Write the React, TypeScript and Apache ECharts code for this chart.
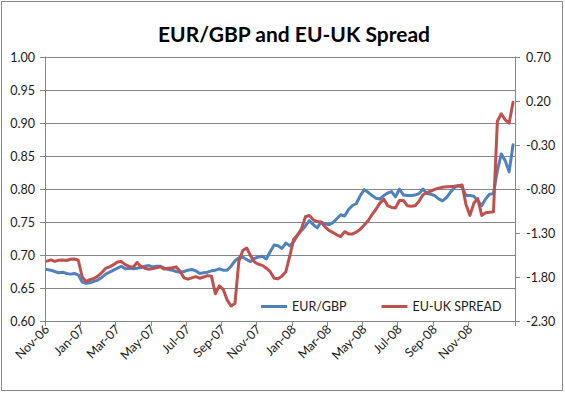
import { useEffect, useRef } from "react";
import * as echarts from "echarts";

// Weekly observations, starting Friday 3 Nov 2006
const weekStart = Date.UTC(2006, 10, 3);
const weekCount = 120;
const labelEvery = 9; // a label every 9 weeks
const lastLabelIndex = 108; // Nov-08
const monthNames = ["Jan", "Feb", "Mar", "Apr", "May", "Jun", "Jul", "Aug", "Sep", "Oct", "Nov", "Dec"];

const categories: string[] = [];
for (let i = 0; i < weekCount; i++) {
  const d = new Date(weekStart + i * 7 * 86400000);
  categories.push(d.toISOString().slice(0, 10));
}

const eurGbp = [
  0.678, 0.677, 0.675, 0.673, 0.674, 0.672, 0.671, 0.672, 0.670, 0.659,
  0.657, 0.658, 0.660, 0.662, 0.666, 0.671, 0.674, 0.677, 0.680, 0.683,
  0.679, 0.680, 0.679, 0.680, 0.681, 0.683, 0.684, 0.682, 0.683, 0.683,
  0.680, 0.678, 0.677, 0.675, 0.674, 0.675, 0.677, 0.678, 0.676, 0.672,
  0.673, 0.674, 0.676, 0.677, 0.679, 0.677, 0.677, 0.683, 0.691, 0.696,
  0.697, 0.693, 0.690, 0.695, 0.697, 0.698, 0.694, 0.705, 0.715, 0.714,
  0.710, 0.718, 0.714, 0.720, 0.730, 0.737, 0.744, 0.752, 0.746, 0.741,
  0.750, 0.747, 0.746, 0.749, 0.755, 0.761, 0.759, 0.769, 0.775, 0.778,
  0.790, 0.799, 0.795, 0.790, 0.786, 0.785, 0.790, 0.794, 0.796, 0.788,
  0.800, 0.791, 0.790, 0.790, 0.791, 0.793, 0.800, 0.793, 0.792, 0.790,
  0.785, 0.782, 0.787, 0.795, 0.802, 0.805, 0.803, 0.790, 0.790, 0.789,
  0.782, 0.775, 0.785, 0.792, 0.793, 0.828, 0.853, 0.843, 0.826, 0.867,
];

const euUkSpread = [
  -1.620, -1.606, -1.622, -1.610, -1.606, -1.612, -1.598, -1.595, -1.610, -1.800,
  -1.850, -1.830, -1.815, -1.790, -1.750, -1.700, -1.685, -1.660, -1.630, -1.625,
  -1.660, -1.680, -1.690, -1.635, -1.680, -1.700, -1.712, -1.705, -1.695, -1.685,
  -1.710, -1.700, -1.695, -1.685, -1.735, -1.810, -1.825, -1.810, -1.796, -1.814,
  -1.800, -1.785, -1.790, -1.990, -1.900, -1.940, -2.060, -2.130, -2.100, -1.620,
  -1.500, -1.470, -1.560, -1.630, -1.655, -1.668, -1.700, -1.740, -1.815, -1.820,
  -1.790, -1.740, -1.560, -1.370, -1.320, -1.250, -1.115, -1.100, -1.150, -1.170,
  -1.175, -1.230, -1.270, -1.295, -1.320, -1.340, -1.285, -1.310, -1.310, -1.290,
  -1.257, -1.210, -1.160, -1.090, -1.030, -0.960, -0.915, -0.990, -1.010, -1.015,
  -0.930, -0.930, -0.990, -0.995, -0.990, -0.940, -0.865, -0.840, -0.825, -0.805,
  -0.790, -0.780, -0.775, -0.772, -0.768, -0.762, -0.755, -0.980, -1.100, -0.960,
  -0.910, -1.100, -1.070, -1.065, -1.060, -0.030, 0.055, -0.015, -0.050, 0.185,
];

const leftMin = 0.6;
const leftMax = 1.0;
const leftStep = 0.05;
const rightMin = -2.3;
const rightMax = 0.7;
const rightStep = 0.5;

const FONT = "Lato";
const GRID_COLOR = "#868686";
const TEXT_COLOR = "#1a1a1a";

function fmtCategory(v: string) {
  const d = new Date(v + "T00:00:00Z");
  const yy = String(d.getUTCFullYear() % 100).padStart(2, "0");
  return `${monthNames[d.getUTCMonth()]}-${yy}`;
}

const showIndex = (i: number) => i % labelEvery === 0 && i <= lastLabelIndex;

export default function App() {
  const ref = useRef<HTMLDivElement>(null);
  useEffect(() => {
    document.body.style.margin = "0";
    const chart = echarts.init(ref.current!, null, { renderer: "svg" });
    chart.setOption({
      animation: false,
      backgroundColor: "#ffffff",
      graphic: [
        {
          type: "rect",
          shape: { x: 1.5, y: 1.5, width: 561, height: 389 },
          style: { fill: "none", stroke: GRID_COLOR, lineWidth: 1 },
          silent: true,
        },
        {
          type: "text",
          x: 294,
          y: 33,
          style: {
            text: "EUR/GBP and EU-UK Spread",
            fontFamily: FONT,
            fontWeight: "bold",
            fontSize: 21,
            fill: "#000000",
            textAlign: "center",
            textVerticalAlign: "middle",
          },
        },
      ],
      grid: { left: 45, right: 50, top: 57, bottom: 73 },
      legend: {
        left: 256,
        top: 295,
        icon: "rect",
        itemWidth: 26,
        itemHeight: 3,
        itemGap: 35,
        textStyle: { fontFamily: FONT, fontSize: 12.5, color: TEXT_COLOR },
        data: ["EUR/GBP", "EU-UK SPREAD"],
      },
      xAxis: {
        type: "category",
        data: categories,
        boundaryGap: true,
        axisLine: { show: true, onZero: false, lineStyle: { color: GRID_COLOR, width: 1 } },
        axisTick: {
          show: true,
          interval: (i: number) => showIndex(i),
          length: 5,
          lineStyle: { color: GRID_COLOR },
        },
        axisLabel: {
          interval: (i: number) => showIndex(i),
          rotate: 45,
          margin: 6,
          fontFamily: FONT,
          fontSize: 12.5,
          color: TEXT_COLOR,
          formatter: (v: string) => fmtCategory(v),
        },
        splitLine: { show: false },
      },
      yAxis: [
        {
          type: "value",
          min: leftMin,
          max: leftMax,
          interval: leftStep,
          axisLine: { show: true, lineStyle: { color: GRID_COLOR, width: 1 } },
          axisTick: { show: true, length: 5, lineStyle: { color: GRID_COLOR } },
          axisLabel: {
            margin: 10,
            fontFamily: FONT,
            fontSize: 12.5,
            color: TEXT_COLOR,
            formatter: (v: number) => v.toFixed(2),
          },
          splitLine: { show: true, lineStyle: { color: GRID_COLOR, width: 1 } },
        },
        {
          type: "value",
          position: "right",
          min: rightMin,
          max: rightMax,
          interval: rightStep,
          axisLine: { show: true, lineStyle: { color: GRID_COLOR, width: 1 } },
          axisTick: { show: true, length: 5, lineStyle: { color: GRID_COLOR } },
          axisLabel: {
            margin: 11,
            fontFamily: FONT,
            fontSize: 12.5,
            color: TEXT_COLOR,
            formatter: (v: number) => v.toFixed(2),
          },
          splitLine: { show: false },
        },
      ],
      series: [
        {
          name: "EUR/GBP",
          type: "line",
          yAxisIndex: 0,
          data: eurGbp,
          showSymbol: false,
          color: "#4F81BD",
          lineStyle: { width: 3, color: "#4F81BD", cap: "round", join: "round" },
        },
        {
          name: "EU-UK SPREAD",
          type: "line",
          yAxisIndex: 1,
          data: euUkSpread,
          showSymbol: false,
          color: "#C0504D",
          lineStyle: { width: 3, color: "#C0504D", cap: "round", join: "round" },
        },
      ],
    });
    return () => chart.dispose();
  }, []);
  return <div ref={ref} style={{ width: 565, height: 394 }} />;
}
